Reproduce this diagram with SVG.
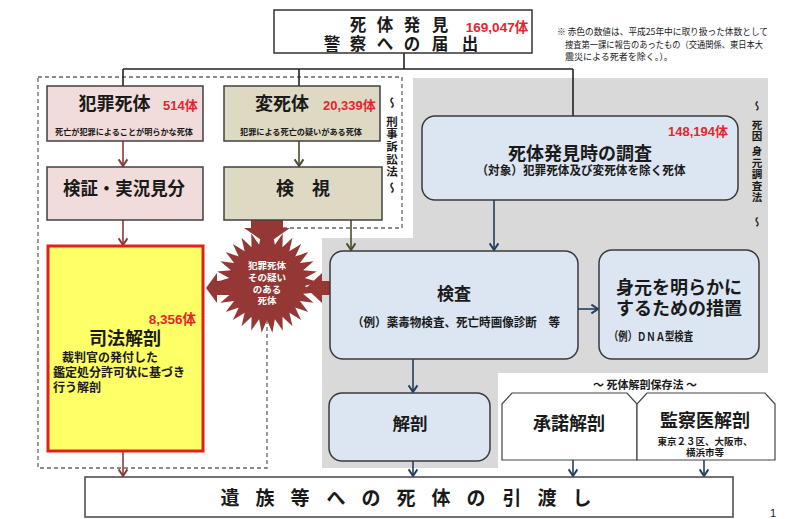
<svg xmlns="http://www.w3.org/2000/svg" width="800" height="519" viewBox="0 0 800 519">
<defs>
<style>
text{font-family:'Noto Sans CJK JP','Noto Sans CJK SC',sans-serif;font-weight:bold;fill:#1a1a1a}
.num{font-family:'Liberation Sans','Noto Sans CJK JP',sans-serif;font-weight:bold;fill:#e3262e;font-size:13px}
.t18{font-size:18px}
.box{stroke:#404040;stroke-width:1.5}
.rbox{fill:#dce6f2;stroke:#3a3a3a;stroke-width:1.5}
.ln{fill:none;stroke-width:1.6}
.mid{text-anchor:middle}
.vert{writing-mode:vertical-rl}
.bt{font-size:9.5px;fill:#fff;text-anchor:middle}
</style>
<marker id="aR" viewBox="0 0 8 10" refX="7" refY="5" markerWidth="9" markerHeight="11" markerUnits="userSpaceOnUse" orient="auto"><path d="M1,1 L7,5 L1,9" fill="none" stroke="#8b3a3a" stroke-width="1.8"/></marker>
<marker id="aO" viewBox="0 0 8 10" refX="7" refY="5" markerWidth="9" markerHeight="11" markerUnits="userSpaceOnUse" orient="auto"><path d="M1,1 L7,5 L1,9" fill="none" stroke="#4d4d2e" stroke-width="1.8"/></marker>
<marker id="aB" viewBox="0 0 8 10" refX="7" refY="5" markerWidth="9" markerHeight="11" markerUnits="userSpaceOnUse" orient="auto"><path d="M1,1 L7,5 L1,9" fill="none" stroke="#243f60" stroke-width="1.8"/></marker>
</defs>
<rect width="800" height="519" fill="#ffffff"/>

<g id="regions">
<polygon points="413,78 768,78 768,373 498,373 498,468 322,468 322,238 413,238" fill="#d9d9d9"/>
<path d="M38,77 H402 V228 H267 V468 H38 Z" fill="none" stroke="#666" stroke-width="1.3" stroke-dasharray="4 3"/>
</g>

<g id="connectors">
<path class="ln" stroke="#222" d="M404,53 V69 M123,69 H573 M123,69 V86 M299,69 V86 M573,69 V116"/>
<line class="ln" stroke="#8b3a3a" x1="123" y1="141" x2="123" y2="166" marker-end="url(#aR)"/>
<line class="ln" stroke="#4d4d2e" x1="299" y1="141" x2="299" y2="166" marker-end="url(#aO)"/>
<line class="ln" stroke="#8b3a3a" x1="123" y1="220" x2="123" y2="245" marker-end="url(#aR)"/>
<line class="ln" stroke="#4d4d2e" x1="351" y1="220" x2="351" y2="250" marker-end="url(#aO)"/>
<line class="ln" stroke="#243f60" x1="494" y1="200" x2="494" y2="250" marker-end="url(#aB)"/>
<line class="ln" stroke="#243f60" x1="578" y1="309" x2="598" y2="309" marker-end="url(#aB)"/>
<line class="ln" stroke="#243f60" x1="413" y1="359" x2="413" y2="392" marker-end="url(#aB)"/>
<line class="ln" stroke="#243f60" x1="413" y1="461" x2="413" y2="476" marker-end="url(#aB)"/>
<line class="ln" stroke="#243f60" x1="573" y1="460" x2="573" y2="476" marker-end="url(#aB)"/>
<line class="ln" stroke="#243f60" x1="704" y1="460" x2="704" y2="476" marker-end="url(#aB)"/>
<line class="ln" stroke="#8b3a3a" x1="123" y1="452" x2="123" y2="476" marker-end="url(#aR)"/>
<polygon fill="#953735" points="251,220 283,220 283,228 290,228 267,244 244,228 251,228"/>
<polygon fill="#953735" points="206,288 217,273 217,281 232,281 232,295 217,295 217,303"/>
<polygon fill="#953735" points="330,281 322,281 322,273 306,288 322,303 322,295 330,295"/>
</g>

<g id="node-top">
<rect x="274" y="10" width="258" height="43" fill="#fff" stroke="#333" stroke-width="1.5"/>
<text style="font-size:16.5px" class="mid"><tspan x="358 385 412 440" y="31">死体発見</tspan><tspan class="num" x="497" y="32" style="font-size:13.5px">169,047体</tspan><tspan x="332 358 385 412 440 470" y="49.5">警察への届出</tspan></text>
</g>

<g id="note">
<text x="557" y="35" style="font-size:9px;font-weight:normal" textLength="211" lengthAdjust="spacingAndGlyphs">※ 赤色の数値は、平成25年中に取り扱った体数として</text>
<text x="565" y="48" style="font-size:9px;font-weight:normal" textLength="198" lengthAdjust="spacingAndGlyphs">捜査第一課に報告のあったもの（交通関係、東日本大</text>
<text x="565" y="60" style="font-size:9px;font-weight:normal">震災による死者を除く。）。</text>
</g>

<g id="node-hanzai">
<rect class="box" x="47" y="86" width="156" height="55" fill="#f2dcdb"/>
<text class="t18 mid" x="114.5" y="110">犯罪死体</text>
<text class="num" x="163" y="110">514体</text>
<text class="mid" x="124" y="135" style="font-size:8.2px" textLength="138" lengthAdjust="spacingAndGlyphs">死亡が犯罪によることが明らかな死体</text>
</g>

<g id="node-henshi">
<rect class="box" x="224" y="86" width="156" height="55" fill="#ddd9c3"/>
<text class="t18 mid" x="282" y="110">変死体</text>
<text class="num" x="323" y="110">20,339体</text>
<text class="mid" x="301" y="135" style="font-size:8.2px" textLength="122" lengthAdjust="spacingAndGlyphs">犯罪による死亡の疑いがある死体</text>
</g>

<g id="node-kensho">
<rect class="box" x="47" y="167" width="156" height="53" fill="#f2dcdb"/>
<text class="t18 mid" x="124" y="195" textLength="122" lengthAdjust="spacingAndGlyphs">検証・実況見分</text>
</g>

<g id="node-kenshi">
<rect class="box" x="224" y="167" width="158" height="53" fill="#ddd9c3"/>
<text class="t18 mid" x="303" y="195">検　視</text>
</g>

<g id="label-keiji">
<text class="vert" x="392" y="97" style="font-size:11.5px">～</text>
<text class="vert" x="392" y="115.5" style="font-size:11.5px;letter-spacing:1.2px">刑事訴訟法</text>
<text class="vert" x="392" y="182" style="font-size:11.5px">～</text>
</g>

<g id="label-shiin">
<text class="vert" x="757" y="101" style="font-size:10.5px">～</text>
<text class="vert" x="757" y="119.5" style="font-size:10.5px;letter-spacing:1px">死因 身元調査法</text>
<text class="vert" x="757" y="217" style="font-size:10.5px">～</text>
</g>

<g id="node-chousa">
<rect class="rbox" x="422" y="116" width="316" height="84" rx="13"/>
<text class="num" x="728" y="136" text-anchor="end">148,194体</text>
<text class="t18 mid" x="580" y="160">死体発見時の調査</text>
<text class="mid" x="581" y="175" style="font-size:12.3px" textLength="209" lengthAdjust="spacingAndGlyphs">（対象）犯罪死体及び変死体を除く死体</text>
</g>

<g id="node-burst">
<polygon fill="#953735" transform="translate(267,282)" points="51,0 37.79,3.97 49.88,10.6 36.14,11.74 46.59,20.74 32.91,19 41.26,29.98 28.24,25.43 34.12,37.9 22.34,30.74 25.5,44.17 15.45,34.71 15.76,48.51 7.9,37.17 5.33,50.72 0,38 -5.33,50.72 -7.9,37.17 -15.76,48.51 -15.45,34.71 -25.5,44.17 -22.34,30.74 -34.12,37.9 -28.24,25.43 -41.26,29.98 -32.91,19 -46.59,20.74 -36.14,11.74 -49.88,10.6 -37.79,3.97 -51,0 -37.79,-3.97 -49.88,-10.6 -36.14,-11.74 -46.59,-20.74 -32.91,-19 -41.26,-29.98 -28.24,-25.43 -34.12,-37.9 -22.34,-30.74 -25.5,-44.17 -15.45,-34.71 -15.76,-48.51 -7.9,-37.17 -5.33,-50.72 0,-38 5.33,-50.72 7.9,-37.17 15.76,-48.51 15.45,-34.71 25.5,-44.17 22.34,-30.74 34.12,-37.9 28.24,-25.43 41.26,-29.98 32.91,-19 46.59,-20.74 36.14,-11.74 49.88,-10.6 37.79,-3.97"/>
<text class="bt"><tspan x="267" y="269">犯罪死体</tspan><tspan x="267" y="281">その疑い</tspan><tspan x="267" y="292.5">のある</tspan><tspan x="267" y="304">死体</tspan></text>
</g>

<g id="node-shihou">
<rect x="48" y="246" width="155" height="205" fill="#ffff66" stroke="#e41e1e" stroke-width="3"/>
<text class="num" x="196" y="324" text-anchor="end" style="font-size:13.5px">8,356体</text>
<text class="t18 mid" x="125" y="345">司法解剖</text>
<text style="font-size:12px"><tspan x="62" y="362">裁判官の発付した</tspan><tspan x="53" y="377">鑑定処分許可状に基づき</tspan><tspan x="53" y="392">行う解剖</tspan></text>
</g>

<g id="node-kensa">
<rect class="rbox" x="330" y="251" width="248" height="108" rx="13"/>
<text class="mid" x="454" y="300" style="font-size:17px">検査</text>
<text class="mid" x="456" y="327" style="font-size:12px" textLength="208" lengthAdjust="spacingAndGlyphs">（例）薬毒物検査、死亡時画像診断　等</text>
</g>

<g id="node-mimoto">
<rect class="rbox" x="599" y="250" width="160" height="109" rx="13"/>
<text class="t18 mid"><tspan x="679" y="294">身元を明らかに</tspan><tspan x="679" y="315">するための措置</tspan></text>
<text x="609" y="341" style="font-size:12px" textLength="84" lengthAdjust="spacingAndGlyphs">（例）ＤＮＡ型検査</text>
</g>

<g id="node-kaibou">
<rect class="rbox" x="329" y="393" width="161" height="68" rx="13"/>
<text class="mid" x="410" y="430" style="font-size:17.5px">解剖</text>
</g>

<g id="label-hozon">
<text class="mid" x="645" y="389" style="font-size:11px">～  死体解剖保存法  ～</text>
</g>

<g id="node-shoudaku">
<path d="M502,460 V404 L512,393 H627 L637,404 V460 Z" fill="#fff" stroke="#444" stroke-width="1.2"/>
<text class="t18 mid" x="569" y="430">承諾解剖</text>
</g>

<g id="node-kansatsui">
<path d="M637,460 V404 L647,393 H765 L775,404 V460 Z" fill="#fff" stroke="#444" stroke-width="1.2"/>
<text class="t18 mid" x="705" y="427">監察医解剖</text>
<text class="mid" style="font-size:9.5px"><tspan x="705" y="444.5">東京２３区、大阪市、</tspan><tspan x="705" y="456">横浜市等</tspan></text>
</g>

<g id="node-hikiwatashi">
<rect x="85" y="477" width="648" height="40" fill="#fff" stroke="#444" stroke-width="1.5"/>
<text class="mid" style="font-size:19px" x="230 265 300 336 371 406 441 476 512 547 582" y="505">遺族等への死体の引渡し</text>
</g>

<text x="773" y="517" style="font-family:'Liberation Sans',sans-serif;font-size:11px;font-weight:normal" text-anchor="middle">1</text>
</svg>
